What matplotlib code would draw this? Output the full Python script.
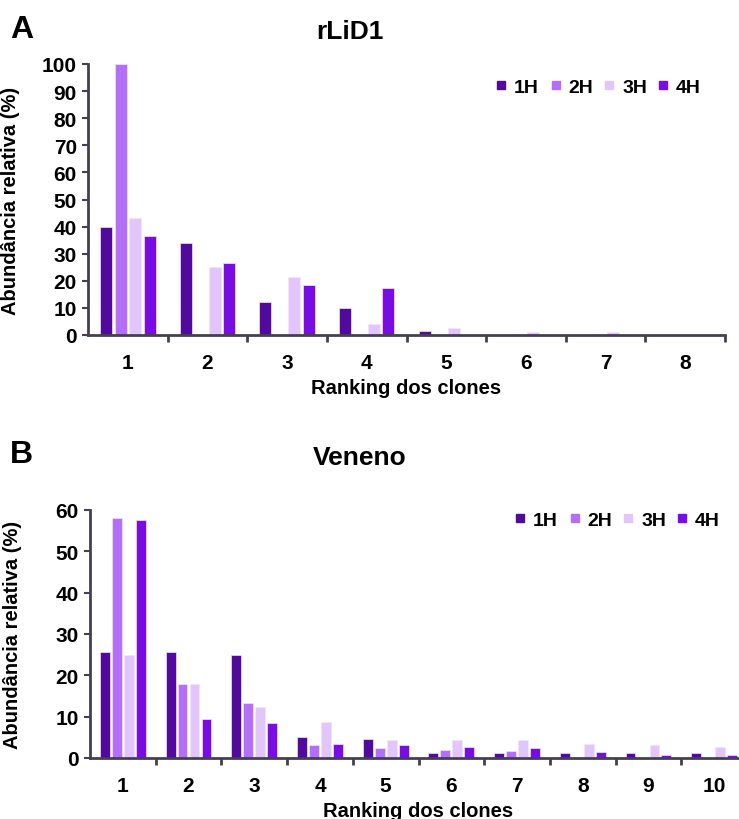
import matplotlib
matplotlib.use("Agg")
import matplotlib.pyplot as plt
from matplotlib.lines import Line2D
import numpy as np

plt.rcParams['font.family'] = ['Liberation Sans', 'DejaVu Sans']
plt.rcParams['font.weight'] = 'bold'

series = ['1H', '2H', '3H', '4H']
colors = ['#510a9c', '#b370f7', '#e1c5fb', '#790ce3']

# painel A - rLiD1
ranks_a = ['1', '2', '3', '4', '5', '6', '7', '8']
a_1h = [39.7, 34.0, 12.1, 10.0, 1.5, 0, 0, 0]
a_2h = [100.0, 0, 0, 0, 0, 0, 0, 0]
a_3h = [43.0, 25.0, 21.4, 4.0, 2.5, 1.2, 1.0, 0]
a_4h = [36.4, 26.5, 18.4, 17.3, 0, 0, 0, 0]

# painel B - Veneno
ranks_b = ['1', '2', '3', '4', '5', '6', '7', '8', '9', '10']
b_1h = [25.7, 25.7, 24.9, 5.1, 4.7, 1.3, 1.2, 1.3, 1.3, 1.3]
b_2h = [58.0, 17.9, 13.3, 3.2, 2.3, 2.0, 1.7, 0, 0, 0]
b_3h = [25.0, 17.9, 12.4, 8.8, 4.4, 4.3, 4.3, 3.5, 3.2, 2.7]
b_4h = [57.7, 9.4, 8.5, 3.5, 3.1, 2.7, 2.3, 1.5, 0.7, 0.7]

axcol = '#45404f'


def painel(ax, ranks, data, ymax, ystep, xmax, ylab_x):
    x = np.arange(len(ranks))
    step = 0.182
    for i, vals in enumerate(data):
        off = (i - 1.5) * step
        ax.bar(x + off, vals, width=0.15, color=colors[i], edgecolor='#f0e6fb',
               linewidth=0.5, zorder=2)
    ax.set_xlim(-0.5, xmax)
    ax.set_ylim(0, ymax)
    ax.set_yticks(np.arange(0, ymax + 1, ystep))
    ax.set_xticks(x)
    ax.set_xticklabels(ranks)
    ax.set_xticks(np.arange(0.5, len(ranks) + 0.5, 1), minor=True)
    ax.tick_params(axis='x', which='major', length=0, pad=13, labelsize=15)
    ax.tick_params(axis='x', which='minor', length=5, width=2, color=axcol, direction='out')
    ax.tick_params(axis='y', length=4, width=1.5, color=axcol, labelsize=15, pad=4)
    for s in ['top', 'right']:
        ax.spines[s].set_visible(False)
    for s in ['left', 'bottom']:
        ax.spines[s].set_color(axcol)
        ax.spines[s].set_linewidth(2)
    ax.set_xlabel('Ranking dos clones', fontsize=14.5, fontweight='bold', labelpad=4)
    ax.set_ylabel('Abundância relativa (%)', fontsize=14.5, fontweight='bold')
    ax.yaxis.set_label_coords(ylab_x, 0.5)


handles = [Line2D([], [], linestyle='none', marker='s', markersize=6.3,
                  markerfacecolor=c, markeredgecolor=c) for c in colors]
leg_kw = dict(ncol=4, frameon=False, handlelength=0.5, handletextpad=0.4,
              columnspacing=0.6, borderaxespad=0, borderpad=0,
              prop={'size': 14, 'weight': 'bold'})

fig = plt.figure(figsize=(7.39, 8.2), dpi=100)

ax1 = fig.add_axes([88 / 739, 1 - 336 / 820, 637 / 739, 271 / 820])
painel(ax1, ranks_a, [a_1h, a_2h, a_3h, a_4h], 100, 10, 7.5, -0.107)
ax1.legend(handles, series, loc='center right',
           bbox_to_anchor=((701 - 88) / 637, (336 - 88) / 271), **leg_kw)

ax2 = fig.add_axes([90 / 739, 1 - 759 / 820, 657 / 739, 248 / 820])
painel(ax2, ranks_b, [b_1h, b_2h, b_3h, b_4h], 60, 10, 9.5, -0.1035)
ax2.legend(handles, series, loc='center right',
           bbox_to_anchor=((720 - 90) / 657, (759 - 521) / 248), **leg_kw)

fig.text(350 / 739, 1 - 32 / 820, 'rLiD1', fontsize=19, fontweight='bold', ha='center', va='center')
fig.text(360 / 739, 1 - 458 / 820, 'Veneno', fontsize=19, fontweight='bold', ha='center', va='center')
fig.text(10 / 739, 1 - 30 / 820, 'A', fontsize=23, fontweight='bold', va='center', ha='left')
fig.text(10 / 739, 1 - 455 / 820, 'B', fontsize=23, fontweight='bold', va='center', ha='left')

fig.savefig('out.png', dpi=100)
